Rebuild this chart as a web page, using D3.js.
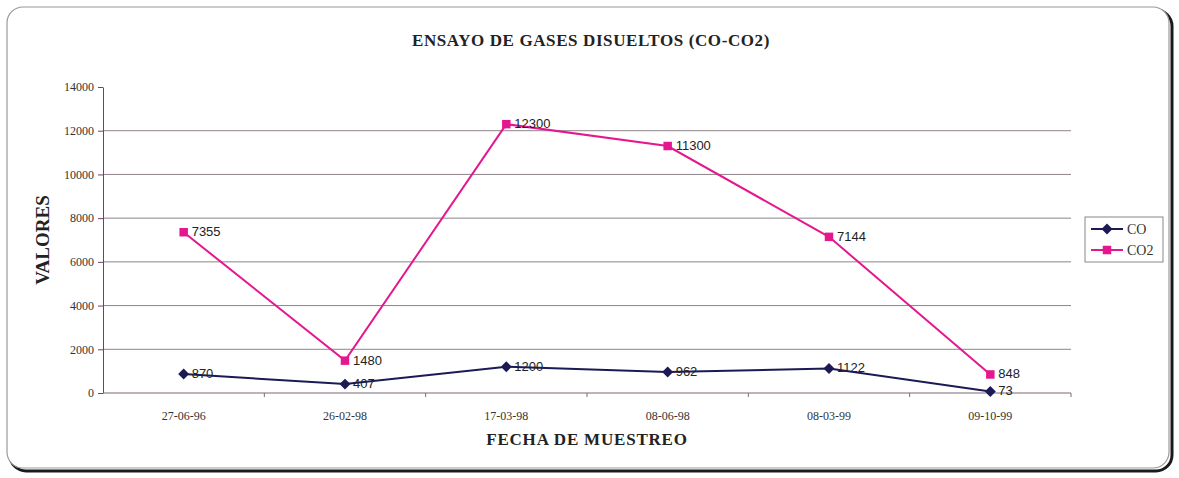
<!DOCTYPE html>
<html>
<head>
<meta charset="utf-8">
<script src="https://cdn.jsdelivr.net/npm/d3@7"></script>
<style>
  html, body { margin: 0; padding: 0; background: #ffffff; }
  svg { display: block; }
</style>
</head>
<body>
<svg id="chart" width="1179" height="478"></svg>
<script>
// Dissolved gas test data (CO and CO2) per sampling date
const fechas = ["27-06-96", "26-02-98", "17-03-98", "08-06-98", "08-03-99", "09-10-99"];
const valoresCO = [870, 407, 1200, 962, 1122, 73];
const valoresCO2 = [7355, 1480, 12300, 11300, 7144, 848];
const yTicks = [0, 2000, 4000, 6000, 8000, 10000, 12000, 14000];

const svg = d3.select("#chart");
const W = 1179, H = 478;
const margin = { left: 103, top: 87 };
const plotW = 968, plotH = 306;

// outer frame with a dark drop edge on the right and bottom
svg.append("rect")
  .attr("x", 10).attr("y", 10).attr("width", W - 17).attr("height", H - 17)
  .attr("rx", 16).attr("ry", 16)
  .attr("fill", "none").attr("stroke", "#1a1a1a").attr("stroke-width", 3);
svg.append("rect")
  .attr("x", 7).attr("y", 7).attr("width", W - 17).attr("height", H - 17)
  .attr("rx", 16).attr("ry", 16)
  .attr("fill", "#ffffff").attr("stroke", "#9a9a9a").attr("stroke-width", 1.2);

const x = d3.scaleBand().domain(fechas).range([margin.left, margin.left + plotW]);
const y = d3.scaleLinear().domain([0, 14000]).range([margin.top + plotH, margin.top]);
const cx = d => x(d) + x.bandwidth() / 2;

// square-proportioned diamond marker
const diamond = {
  draw(ctx, size) {
    const r = Math.sqrt(size / 2);
    ctx.moveTo(0, -r); ctx.lineTo(r, 0); ctx.lineTo(0, r); ctx.lineTo(-r, 0); ctx.closePath();
  }
};

// horizontal gridlines
svg.append("g")
  .selectAll("line")
  .data(yTicks.filter(t => t > 0 && t < 14000))
  .join("line")
  .attr("x1", margin.left).attr("x2", margin.left + plotW)
  .attr("y1", d => y(d)).attr("y2", d => y(d))
  .attr("stroke", "#8d8389").attr("stroke-width", 1);

// y axis
const yAxis = svg.append("g")
  .attr("transform", `translate(${margin.left},0)`)
  .call(d3.axisLeft(y).tickValues(yTicks).tickSize(5).tickSizeOuter(0).tickFormat(d3.format("d")));
yAxis.select(".domain").attr("stroke", "#7a3a6a");
yAxis.selectAll(".tick line").attr("stroke", "#7a3a6a");
yAxis.selectAll("text")
  .attr("font-family", "Liberation Serif, serif").attr("font-size", 12)
  .attr("fill", "#333").attr("x", -9);

// x axis with ticks between categories
const xAxisG = svg.append("g")
  .attr("transform", `translate(0,${margin.top + plotH})`);
xAxisG.append("line")
  .attr("x1", margin.left).attr("x2", margin.left + plotW)
  .attr("stroke", "#7a6a74").attr("stroke-width", 1.2);
xAxisG.selectAll("line.tk")
  .data(fechas)
  .join("line").attr("class", "tk")
  .attr("x1", d => x(d) + x.bandwidth())
  .attr("x2", d => x(d) + x.bandwidth())
  .attr("y1", 0).attr("y2", 4)
  .attr("stroke", "#7a6a74");
xAxisG.selectAll("text")
  .data(fechas)
  .join("text")
  .attr("x", d => cx(d)).attr("y", 27)
  .attr("text-anchor", "middle")
  .attr("font-family", "Liberation Serif, serif").attr("font-size", 12)
  .attr("fill", "#333")
  .text(d => d);

// titles
svg.append("text")
  .attr("x", 591).attr("y", 46)
  .attr("text-anchor", "middle")
  .attr("font-family", "Liberation Serif, serif").attr("font-weight", "bold")
  .attr("font-size", 17).attr("letter-spacing", 0.6).attr("fill", "#222")
  .text("ENSAYO DE GASES DISUELTOS (CO-CO2)");
svg.append("text")
  .attr("x", 587).attr("y", 445)
  .attr("text-anchor", "middle")
  .attr("font-family", "Liberation Serif, serif").attr("font-weight", "bold")
  .attr("font-size", 17).attr("letter-spacing", 0.8).attr("fill", "#222")
  .text("FECHA DE MUESTREO");
svg.append("text")
  .attr("transform", "translate(49,240) rotate(-90)")
  .attr("text-anchor", "middle")
  .attr("font-family", "Liberation Serif, serif").attr("font-weight", "bold")
  .attr("font-size", 19).attr("fill", "#222")
  .text("VALORES");

const series = [
  { name: "CO", values: valoresCO, color: "#1c1a55", symbol: diamond, size: 60 },
  { name: "CO2", values: valoresCO2, color: "#e4178f", symbol: d3.symbolSquare, size: 72 }
];

const line = d3.line().x(d => cx(d.fecha)).y(d => y(d.v));

series.forEach(s => {
  const pts = fechas.map((f, i) => ({ fecha: f, v: s.values[i] }));
  const g = svg.append("g");
  g.append("path").datum(pts)
    .attr("d", line).attr("fill", "none")
    .attr("stroke", s.color).attr("stroke-width", 2);
  g.selectAll("path.mk").data(pts).join("path").attr("class", "mk")
    .attr("d", d3.symbol().type(s.symbol).size(s.size))
    .attr("transform", d => `translate(${cx(d.fecha)},${y(d.v)})`)
    .attr("fill", s.color);
  g.selectAll("text").data(pts).join("text")
    .attr("x", d => cx(d.fecha) + 8).attr("y", d => y(d.v) + 4)
    .attr("font-family", "Liberation Sans, Arial, sans-serif").attr("font-size", 13)
    .attr("fill", "#222")
    .text(d => d.v);
});

// legend
const lg = svg.append("g").attr("transform", "translate(1085,217)");
lg.append("rect").attr("width", 78).attr("height", 45)
  .attr("fill", "#fff").attr("stroke", "#888").attr("stroke-width", 1);
series.forEach((s, i) => {
  const yy = 12 + i * 21;
  lg.append("line").attr("x1", 6).attr("x2", 38).attr("y1", yy).attr("y2", yy)
    .attr("stroke", s.color).attr("stroke-width", 2);
  lg.append("path").attr("d", d3.symbol().type(s.symbol).size(s.size)())
    .attr("transform", `translate(22,${yy})`).attr("fill", s.color);
  lg.append("text").attr("x", 42).attr("y", yy + 5)
    .attr("font-family", "Liberation Serif, serif").attr("font-size", 14)
    .attr("fill", "#333").text(s.name);
});
</script>
</body>
</html>
